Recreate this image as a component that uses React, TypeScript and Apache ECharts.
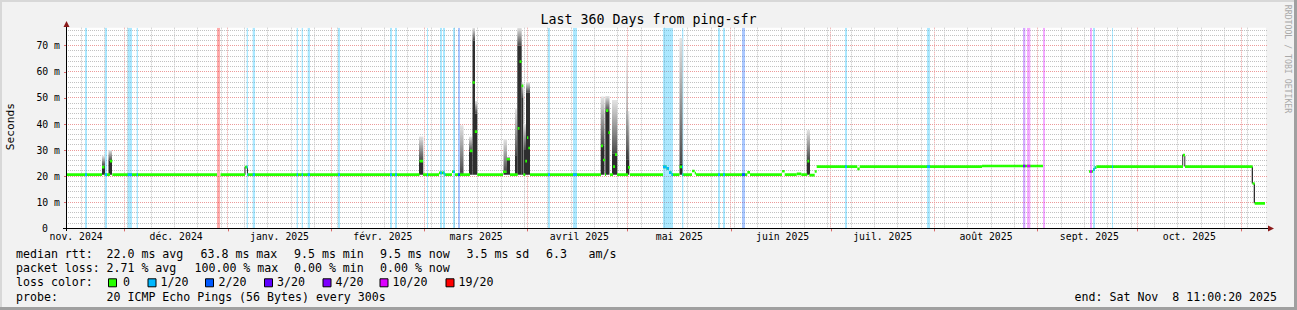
import React, { useEffect, useRef } from 'react';
import * as echarts from 'echarts';

// ---------- time frame ----------
const START_TIME = '2024-11-13T11:00:20+01:00';
const RANGE_DAYS = 360;
const MONTH_STARTS = [
  '2024-12-01T00:00:00+01:00', '2025-01-01T00:00:00+01:00', '2025-02-01T00:00:00+01:00',
  '2025-03-01T00:00:00+01:00', '2025-04-01T00:00:00+02:00', '2025-05-01T00:00:00+02:00',
  '2025-06-01T00:00:00+02:00', '2025-07-01T00:00:00+02:00', '2025-08-01T00:00:00+02:00',
  '2025-09-01T00:00:00+02:00', '2025-10-01T00:00:00+02:00', '2025-11-01T00:00:00+01:00',
];
const MONTH_LABEL_TIMES = [
  '2024-11-16T12:00:00+01:00', '2024-12-16T12:00:00+01:00', '2025-01-16T12:00:00+01:00',
  '2025-02-16T12:00:00+01:00', '2025-03-16T12:00:00+01:00', '2025-04-16T12:00:00+02:00',
  '2025-05-16T12:00:00+02:00', '2025-06-16T12:00:00+02:00', '2025-07-16T12:00:00+02:00',
  '2025-08-16T12:00:00+02:00', '2025-09-16T12:00:00+02:00', '2025-10-16T12:00:00+02:00',
];
const MONTH_LABELS = [
  'nov. 2024', 'déc. 2024', 'janv. 2025', 'févr. 2025', 'mars 2025', 'avril 2025',
  'mai 2025', 'juin 2025', 'juil. 2025', 'août 2025', 'sept. 2025', 'oct. 2025',
];
const FIRST_WEEK_LINE = '2024-11-18T00:00:00+01:00';

// ---------- value axis ----------
const Y_MAX = 76.9;
const Y_TICKS = [0, 10, 20, 30, 40, 50, 60, 70];
const Y_MINOR_STEP = 2;

// ---------- data (x in days since start, y in ms) ----------
// median rtt segments: [from, to, ms]
const MEDIAN = [
  [0, 10.8, 20.6], [10.8, 11.55, 23.5], [11.55, 13.2, 20.6], [13.2, 13.9, 25.8],
  [13.9, 45.3, 20.6],
  [46.35, 53.7, 20.6], [53.7, 54.4, 23.5], [54.4, 106.05, 20.6], [106.05, 107.1, 25.8],
  [107.1, 111.9, 20.6], [111.9, 113.55, 21.3], [113.55, 115.8, 20.6], [115.8, 116.7, 21.7],
  [116.7, 121.2, 20.6], [121.2, 121.95, 29.7], [121.95, 122.64, 55.9], [122.64, 123.39, 37.1],
  [123.39, 131.1, 20.6], [131.1, 132.15, 21.7], [132.15, 133.2, 26.5], [133.2, 135.51, 20.6],
  [135.51, 136.05, 38.3], [136.05, 136.65, 63.9], [136.65, 137.19, 54.6], [137.19, 137.79, 20.6],
  [137.79, 138.3, 25.8], [138.3, 138.69, 34.8], [138.69, 139.2, 30.8], [139.2, 160.5, 20.6],
  [160.5, 161.1, 31.6], [161.1, 161.7, 26.2], [161.7, 162.0, 20.6], [162.0, 162.69, 45.1],
  [162.69, 163.2, 36.7], [163.2, 164.1, 20.6], [164.1, 164.7, 23.7], [164.7, 165.3, 28.3],
  [165.3, 168.6, 20.6], [168.6, 169.2, 23.4], [169.2, 179.1, 20.6], [179.1, 180.15, 23.6],
  [180.15, 180.9, 23.0], [180.9, 181.65, 21.4], [181.65, 184.05, 20.6], [184.05, 184.89, 23.6],
  [184.89, 187.8, 20.6], [187.8, 188.61, 22.0], [188.61, 189.0, 21.2], [189.0, 204.39, 20.6],
  [204.39, 205.2, 21.5], [205.2, 214.8, 20.6], [214.8, 215.61, 21.9], [215.61, 219.21, 20.6],
  [219.21, 220.59, 20.9], [220.59, 222.39, 20.6], [222.39, 222.99, 25.8], [222.99, 224.61, 20.4],
  [224.61, 225.21, 21.8], [225.21, 237.39, 23.7], [237.39, 238.11, 22.8], [238.11, 274.8, 23.7],
  [274.8, 293.1, 23.9],
  [306.9, 308.1, 21.8], [308.1, 308.61, 22.5], [308.61, 309.15, 23.3], [309.15, 335.1, 23.7],
  [335.1, 335.7, 28.1], [335.7, 355.95, 23.7], [355.95, 356.61, 17.2], [356.61, 359.7, 9.6],
];

// packet loss periods: [from, to, lost pings out of 20]
const LOSS = [
  [5.7, 6.3, 1], [11.7, 12.3, 1], [18.5, 19.8, 1], [21.2, 21.6, 1], [45.3, 46.2, 19],
  [54.2, 54.6, 1], [56.0, 56.7, 1], [69.2, 69.6, 1], [70.7, 71.1, 1], [72.5, 73.2, 1],
  [81.6, 82.2, 1], [97.2, 97.8, 1], [98.7, 99.3, 1], [108.3, 108.6, 1], [112.2, 112.8, 1],
  [113.1, 113.7, 1], [116.1, 116.7, 1], [117.6, 118.2, 2], [144.6, 145.2, 1], [152.1, 153.3, 1],
  [179.1, 182.1, 1], [184.8, 185.2, 1], [195.6, 196.2, 1], [197.1, 197.7, 1], [202.8, 203.7, 2],
  [233.7, 234.3, 1], [258.3, 259.2, 1], [287.1, 287.8, 4], [288.3, 289.3, 10], [293.1, 293.7, 10],
  [307.2, 307.8, 10], [308.1, 308.7, 1], [313.8, 314.1, 1],
];

// smoke (ping spread): [from, to, low ms, dense-until ms, high ms]
const SMOKE = [
  [10.8, 11.7, 20.6, 24.0, 27.8], [12.75, 13.8, 20.6, 26.0, 30.0],
  [53.55, 53.79, 20.6, 23.5, 23.5], [54.3, 54.54, 20.6, 23.3, 23.3],
  [105.9, 107.19, 20.6, 26.0, 35.2], [118.2, 119.25, 20.6, 21.5, 39.5],
  [120.9, 121.95, 20.6, 29.4, 35.2], [121.95, 122.7, 20.6, 72.0, 76.9], [122.7, 123.39, 20.6, 44.0, 48.8],
  [131.25, 132.3, 20.6, 21.5, 34.2], [132.3, 133.2, 20.6, 26.5, 27.5],
  [134.7, 135.39, 20.6, 28.0, 46.0], [135.39, 136.71, 20.6, 70.0, 76.9], [136.71, 137.19, 20.6, 50.0, 56.0],
  [137.25, 138.0, 20.6, 30.0, 40.0], [138.0, 139.2, 20.6, 52.0, 56.0],
  [160.41, 161.55, 20.6, 31.6, 50.5], [161.79, 163.05, 20.6, 45.0, 50.7], [163.8, 165.39, 20.6, 28.8, 49.2],
  [168.0, 168.99, 20.6, 26.5, 45.0], [168.15, 168.45, 26.5, 30.0, 66.0],
  [184.05, 184.95, 20.6, 25.0, 73.0], [222.21, 223.2, 20.6, 26.2, 37.7],
  [334.86, 335.16, 23.7, 28.3, 28.3], [335.49, 335.79, 23.7, 27.8, 27.8],
  [355.71, 356.1, 17.2, 23.7, 23.7], [356.31, 356.7, 9.6, 17.2, 17.2],
];

// ---------- legend texts ----------
const TITLE = 'Last 360 Days from ping-sfr';
const MEDIAN_STATS = ['median rtt:', '22.0 ms avg', '63.8 ms max', '9.5 ms min', '9.5 ms now', '3.5 ms sd', '6.3', 'am/s'];
const LOSS_STATS = ['packet loss:', '2.71 % avg', '100.00 % max', '0.00 % min', '0.00 % now'];
const LOSS_LEVELS = [0, 1, 2, 3, 4, 10, 19];
const LOSS_LEVEL_LABELS = ['0', '1/20', '2/20', '3/20', '4/20', '10/20', '19/20'];
const PROBE = ['probe:', '20 ICMP Echo Pings (56 Bytes) every 300s'];
const END_TEXT = 'end: Sat Nov  8 11:00:20 2025';
const WATERMARK = 'RRDTOOL / TOBI OETIKER';

// ---------- styles ----------
const FONT = '"DejaVu Sans Mono", monospace';
const LOSS_COLORS: Record<number, string> = {
  0: '#26ff00', 1: '#00b8ff', 2: '#0059ff', 3: '#5e00ff', 4: '#7e00ff', 10: '#dd00ff', 19: '#ff0000',
};
const BG = '#f2f2f2';
const MINOR_GRID = '#c2c2c2';
const MAJOR_GRID = '#ec9a9a';
const ARROW = '#8b1a1a';

const startMs = Date.parse(START_TIME);
const dayOf = (s: string) => (Date.parse(s) - startMs) / 86400000;

function hexA(hex: string, a: number) {
  const n = parseInt(hex.slice(1), 16);
  return `rgba(${(n >> 16) & 255},${(n >> 8) & 255},${n & 255},${a})`;
}

function buildOption() {
  const monthStartDays = MONTH_STARTS.map(dayOf);
  const monthLabelDays = MONTH_LABEL_TIMES.map(dayOf);
  const weekDays: number[] = [];
  for (let d = dayOf(FIRST_WEEK_LINE); d < RANGE_DAYS; d += 7) {
    if (!monthStartDays.some((m) => Math.abs(m - d) < 0.4)) weekDays.push(d);
  }
  const hMinor: number[] = [];
  for (let v = Y_MINOR_STEP; v < Y_MAX; v += Y_MINOR_STEP) {
    if (!Y_TICKS.some((t) => Math.abs(t - v) < 1e-6)) hMinor.push(v);
  }
  const gridData = [
    ...weekDays.map((d) => [0, d, 0]),
    ...monthStartDays.map((d) => [0, d, 1]),
    ...hMinor.map((v) => [1, v, 0]),
    ...Y_TICKS.filter((t) => t > 0).map((v) => [1, v, 1]),
  ];

  const overlay: number[][] = [];
  for (const [a, b, lvl] of LOSS) {
    for (const [m0, m1, v] of MEDIAN) {
      const s = Math.max(a, m0);
      const e = Math.min(b, m1);
      if (e > s) overlay.push([s, e, v, lvl]);
    }
  }

  const band = (color: string | null) => (params: any, api: any) => {
    const x0 = api.value(0);
    const x1 = api.value(1);
    const v = api.value(2);
    const c = color ?? LOSS_COLORS[api.value(3)];
    const a = api.coord([x0, v]);
    const b = api.coord([x1, v]);
    return {
      type: 'rect',
      shape: { x: a[0], y: a[1] - 1.35, width: Math.max(1, b[0] - a[0]), height: 2.7 },
      style: { fill: c },
    };
  };

  const txt = (text: string, x: number, y: number, size: number, extra: any = {}) => ({
    type: 'text',
    x,
    y,
    z: 100,
    silent: true,
    ...extra,
    style: {
      text,
      fill: '#000',
      fontFamily: FONT,
      fontSize: size,
      align: 'left',
      verticalAlign: 'middle',
      ...(extra.style || {}),
    },
  });

  const LEG = 11.6;
  const rows = [254.3, 268.3, 282.3, 296.5];
  const medianX = [16, 106.5, 200.5, 294, 380, 466.5, 546, 588.5];
  const lossX = [16, 106.5, 194.5, 294, 380];
  const boxX = [108, 147.5, 205, 264, 322.5, 379.5, 445.5];
  const boxLabelX = [123, 160.5, 218.5, 277, 335.5, 392.5, 458.5];

  const graphic: any[] = [
    // frame
    { type: 'rect', z: 100, silent: true, shape: { x: 0, y: 0, width: 1297, height: 2 }, style: { fill: '#d8d8d8' } },
    { type: 'rect', z: 100, silent: true, shape: { x: 0, y: 0, width: 2, height: 310 }, style: { fill: '#d8d8d8' } },
    { type: 'rect', z: 100, silent: true, shape: { x: 0, y: 307, width: 1297, height: 3 }, style: { fill: '#a0a0a0' } },
    { type: 'rect', z: 100, silent: true, shape: { x: 1294, y: 0, width: 3, height: 310 }, style: { fill: '#a0a0a0' } },
    // axis lines and arrows
    { type: 'line', z: 100, silent: true, shape: { x1: 63, y1: 228.5, x2: 1269, y2: 228.5 }, style: { stroke: '#000', lineWidth: 1 } },
    { type: 'line', z: 100, silent: true, shape: { x1: 66.5, y1: 231, x2: 66.5, y2: 26 }, style: { stroke: '#000', lineWidth: 1 } },
    { type: 'polygon', z: 100, silent: true, shape: { points: [[63.5, 27], [69.5, 27], [66.5, 21]] }, style: { fill: ARROW } },
    { type: 'polygon', z: 100, silent: true, shape: { points: [[1268, 225.5], [1268, 231.5], [1274, 228.5]] }, style: { fill: ARROW } },
    // title, axis name, watermark
    txt(TITLE, 648.5, 19.5, 13.3, { style: { align: 'center' } }),
    txt('Seconds', 10.8, 126.7, 11.2, { rotation: Math.PI / 2, style: { align: 'center' } }),
    txt(WATERMARK, 1287.7, 59, 8.2, { rotation: -Math.PI / 2, style: { align: 'center', fill: '#a9a9a9' } }),
  ];
  MEDIAN_STATS.forEach((t, i) => graphic.push(txt(t, medianX[i], rows[0], LEG)));
  LOSS_STATS.forEach((t, i) => graphic.push(txt(t, lossX[i], rows[1], LEG)));
  graphic.push(txt('loss color:', 16, rows[2], LEG));
  LOSS_LEVELS.forEach((lvl, i) => {
    graphic.push({
      type: 'rect', z: 100, silent: true,
      shape: { x: boxX[i] + 0.5, y: rows[2] - 3.5, width: 8, height: 8 },
      style: { fill: LOSS_COLORS[lvl], stroke: '#000', lineWidth: 1 },
    });
    graphic.push(txt(LOSS_LEVEL_LABELS[i], boxLabelX[i], rows[2], LEG));
  });
  graphic.push(txt(PROBE[0], 16, rows[3], LEG));
  graphic.push(txt(PROBE[1], 106.5, rows[3], LEG));
  graphic.push(txt(END_TEXT, 1277, rows[3], LEG, { style: { align: 'right' } }));

  return {
    animation: false,
    backgroundColor: BG,
    grid: {
      left: 66, top: 27.7, width: 1200, height: 200.7,
      show: true, backgroundColor: '#ffffff', borderWidth: 0,
    },
    xAxis: {
      type: 'value', min: 0, max: RANGE_DAYS,
      axisLine: { show: false },
      splitLine: { show: false },
      axisTick: { show: true, customValues: monthStartDays, length: 3, lineStyle: { color: '#d86a6a', width: 1 } },
      axisLabel: {
        customValues: monthLabelDays,
        formatter: (v: number) => {
          const i = monthLabelDays.findIndex((d) => Math.abs(d - v) < 1e-6);
          return i >= 0 ? MONTH_LABELS[i] : '';
        },
        fontFamily: FONT, fontSize: 9.8, color: '#000', margin: 3.5,
      },
    },
    yAxis: {
      type: 'value', min: 0, max: Y_MAX,
      axisLine: { show: false },
      splitLine: { show: false },
      axisTick: { show: true, customValues: Y_TICKS, length: 2, lineStyle: { color: '#d86a6a' } },
      axisLabel: {
        customValues: Y_TICKS,
        formatter: (v: number) => (v === 0 ? '{z|0}' : `${v} m`),
        fontFamily: FONT, fontSize: 9.8, color: '#000', margin: 6,
        rich: { z: { fontFamily: FONT, fontSize: 9.8, color: '#000', padding: [0, 12, 0, 0] } },
      },
    },
    series: [
      {
        type: 'custom', name: 'grid', silent: true, z: 1, clip: false,
        data: gridData,
        renderItem: (params: any, api: any) => {
          const cs = params.coordSys;
          const kind = api.value(0);
          const v = api.value(1);
          const stroke = api.value(2) ? MAJOR_GRID : MINOR_GRID;
          if (kind === 0) {
            const x = Math.floor(api.coord([v, 0])[0]) + 0.5;
            return { type: 'line', shape: { x1: x, y1: cs.y, x2: x, y2: cs.y + cs.height }, style: { stroke, lineWidth: 1, lineDash: [1, 1] } };
          }
          const y = Math.floor(api.coord([0, v])[1]) + 0.5;
          return { type: 'line', shape: { x1: cs.x, y1: y, x2: cs.x + cs.width + 2, y2: y }, style: { stroke, lineWidth: 1, lineDash: [1, 1] } };
        },
      },
      {
        type: 'custom', name: 'loss', silent: true, z: 2, clip: true,
        data: LOSS,
        renderItem: (params: any, api: any) => {
          const cs = params.coordSys;
          const a = api.coord([api.value(0), 0]);
          const b = api.coord([api.value(1), 0]);
          return {
            type: 'rect',
            shape: { x: a[0], y: cs.y, width: Math.max(1, b[0] - a[0]), height: cs.height },
            style: { fill: hexA(LOSS_COLORS[api.value(2)], 0.33) },
          };
        },
      },
      {
        type: 'custom', name: 'smoke', silent: true, z: 3, clip: true,
        data: SMOKE,
        renderItem: (params: any, api: any) => {
          const x0 = api.value(0), x1 = api.value(1);
          const lo = api.coord([x0, api.value(2)]);
          const mid = api.coord([x1, api.value(3)]);
          const hi = api.coord([x1, api.value(4)]);
          const w = Math.max(1, mid[0] - lo[0]);
          const children: any[] = [
            { type: 'rect', shape: { x: lo[0], y: mid[1], width: w, height: Math.max(0, lo[1] - mid[1]) }, style: { fill: '#2e2e2e' } },
          ];
          if (mid[1] - hi[1] > 0.5) {
            children.push({
              type: 'rect',
              shape: { x: lo[0], y: hi[1], width: w, height: mid[1] - hi[1] },
              style: {
                fill: new echarts.graphic.LinearGradient(0, 0, 0, 1, [
                  { offset: 0, color: '#e4e4e4' },
                  { offset: 1, color: '#4a4a4a' },
                ]),
              },
            });
          }
          return { type: 'group', children };
        },
      },
      {
        type: 'custom', name: 'median', silent: true, z: 4, clip: true,
        data: MEDIAN,
        renderItem: band(LOSS_COLORS[0]),
      },
      {
        type: 'custom', name: 'median loss', silent: true, z: 5, clip: true,
        data: overlay,
        renderItem: band(null),
      },
    ],
    graphic,
  };
}

export default function App() {
  const ref = useRef<HTMLDivElement>(null);
  useEffect(() => {
    const chart = echarts.init(ref.current!, undefined, { renderer: 'svg' });
    chart.setOption(buildOption() as any);
    return () => chart.dispose();
  }, []);
  return <div ref={ref} style={{ position: 'fixed', left: 0, top: 0, width: 1297, height: 310 }} />;
}
